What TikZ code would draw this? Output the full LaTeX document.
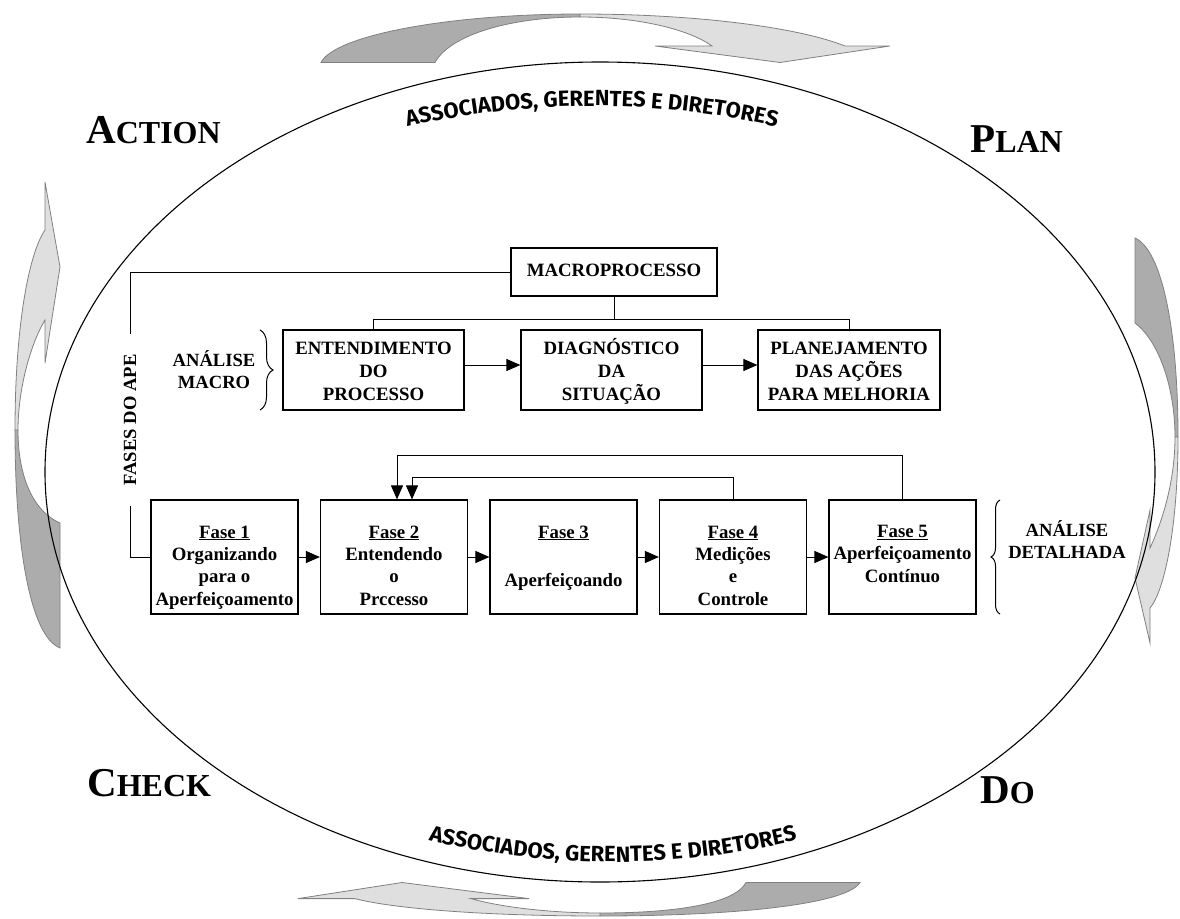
\documentclass[tikz,border=0pt]{standalone}
\usepackage{fontspec}
\setmainfont{Liberation Serif}
\newfontfamily\comicfont{Fira Sans}
\usetikzlibrary{arrows.meta,decorations.pathreplacing,decorations.text,shapes.geometric}

\begin{document}
\begin{tikzpicture}[x=1pt, y=-1pt,
  pbox/.style={draw, line width=1.2pt, inner sep=0pt, align=center,
    font=\bfseries\fontsize{18.8}{23}\selectfont},
  topbox/.style={pbox, minimum width=181pt, text height=70pt, text depth=10pt},
  fasebox/.style={pbox, minimum width=147pt, text height=105pt, text depth=9pt,
    font=\bfseries\fontsize{18.8}{22.3}\selectfont},
  link/.style={line width=1pt},
  arr/.style={link, -{Triangle[length=14pt,width=12pt]}},
  sidetext/.style={font=\bfseries\fontsize{18.6}{22}\selectfont, align=center, inner sep=0pt},
  pdca/.style={font=\bfseries\fontsize{41}{41}\selectfont, anchor=base west, inner sep=0pt},
  bandline/.style={draw=gray, line width=0.8pt},
  banddark/.style={bandline, fill=gray!65},
  bandlight/.style={bandline, fill=gray!25},
  groupbrace/.style={line width=1pt, decorate},
  caption/.style={decorate, decoration={text along path, text align=center,
    text={|\comicfont\bfseries\fontsize{22}{22}\selectfont|ASSOCIADOS, GERENTES E DIRETORES}}},
]
\useasboundingbox (0,0) rectangle (1180,918);

% ---- circulating arrows around the cycle ----
% top
\path[banddark] (321,62.5) .. controls (335,35) and (450,14) .. (580,14)
  -- (580,17) .. controls (510,17) and (450,35) .. (435,62.5) -- cycle;
\path[bandlight] (580,14) .. controls (700,14) and (800,28) .. (845,46)
  -- (890,46) -- (780,62.5) -- (655,46) -- (712,46)
  .. controls (690,30) and (640,17) .. (580,17) -- cycle;
% bottom
\path[banddark] (860,882.5) .. controls (846,905) and (730,916) .. (600,916)
  -- (600,913) .. controls (680,913) and (735,903) .. (746,882.5) -- cycle;
\path[bandlight] (600,916) .. controls (480,916) and (390,908) .. (355,898.6)
  -- (298,898.6) -- (402,882.5) -- (529,898.6) -- (471,898.6)
  .. controls (500,907) and (550,913) .. (600,913) -- cycle;
% left
\path[banddark] (60,648) .. controls (30,636) and (15,545) .. (15,430)
  -- (18,430) .. controls (18,480) and (35,512) .. (60,523) -- cycle;
\path[bandlight] (15,430) .. controls (15,330) and (28,255) .. (45,230)
  -- (45,182) -- (60,267) -- (45,363) -- (45,320)
  .. controls (30,345) and (18,390) .. (18,430) -- cycle;
% right
\path[banddark] (1135,238) .. controls (1162,250) and (1178,330) .. (1178,437)
  -- (1175,437) .. controls (1175,390) and (1160,342) .. (1135,323) -- cycle;
\path[bandlight] (1178,437) .. controls (1178,525) and (1165,590) .. (1150,608)
  -- (1150,643) -- (1135,578) -- (1150,510) -- (1150,548)
  .. controls (1163,520) and (1175,480) .. (1175,437) -- cycle;

% ---- the cycle ----
\node[draw, ellipse, line width=1.1pt, minimum width=1110pt, minimum height=820pt,
  inner sep=0pt] (cycle) at (600,472) {};

% ---- PDCA labels ----
\node[pdca] (act) at (86,143) {A{\fontsize{32}{32}\selectfont CTION}};
\node[pdca] (plan) at (970,152) {P{\fontsize{32}{32}\selectfont LAN}};
\node[pdca] (chk) at (87,796) {C{\fontsize{32}{32}\selectfont HECK}};
\node[pdca] (do) at (980,803) {D{\fontsize{32}{32}\selectfont O}};

% ---- curved captions ----
\path[caption] plot[smooth, domain=250:290, samples=41] ({592+830*cos(\x)}, {936+830*sin(\x)});
\path[caption] plot[smooth, domain=68:112, samples=41] ({613-788*cos(\x)}, {74+788*sin(\x)});

% ---- macro analysis ----
\node[pbox, minimum width=206pt, text height=28pt, text depth=20pt] (macro) at (614,272) {MACROPROCESSO};
\node[topbox] (ent) at (373.5,370) {ENTENDIMENTO\\DO\\PROCESSO};
\node[topbox] (diag) at (611.5,370) {DIAGNÓSTICO\\DA\\SITUAÇÃO};
\node[topbox, minimum width=182pt] (plano) at (849,370) {PLANEJAMENTO\\DAS AÇÕES\\PARA MELHORIA};

\coordinate (bus) at (0,319);
\draw[link] (macro.south) -- (macro.south |- bus);
\draw[link] (ent.north) |- (plano.north |- bus) -- (plano.north);
\draw[arr] ([yshift=5pt]ent.east) -- ([yshift=5pt]diag.west);
\draw[arr] ([yshift=5pt]diag.east) -- ([yshift=5pt]plano.west);

\node[sidetext] (amacro) at (214,370) {ANÁLISE\\MACRO};
\coordinate (mbT) at (260,330);
\coordinate (mbB) at (260,410);
\draw[groupbrace, decoration={brace, amplitude=13pt}] (mbT) -- (mbB);

% ---- detailed phases ----
\node[fasebox] (f1) at (224.5,557) {\underline{Fase 1}\\Organizando\\para o\\Aperfeiçoamento};
\node[fasebox] (f2) at (394,557) {\underline{Fase 2}\\Entendendo\\o\\Prccesso};
\node[fasebox, text height=86pt, text depth=28pt] (f3) at (563.5,557) {\underline{Fase 3}\\[25.7pt]Aperfeiçoando};
\node[fasebox] (f4) at (733,557) {\underline{Fase 4}\\Medições\\e\\Controle};
\node[fasebox, text height=82pt, text depth=32pt] (f5) at (902.5,557) {\underline{Fase 5}\\Aperfeiçoamento\\Contínuo};

\draw[arr] (f1.east) -- (f2.west);
\draw[arr] (f2.east) -- (f3.west);
\draw[arr] (f3.east) -- (f4.west);
\draw[arr] (f4.east) -- (f5.west);

\coordinate (loopA) at (0,455);
\coordinate (loopB) at (0,477);
\coordinate (inA) at ([xshift=3pt]f2.north);
\coordinate (inB) at ([xshift=18pt]f2.north);
\draw[arr] (f5.north) |- (inA |- loopA) -- (inA);
\draw[arr] (f4.north) |- (inB |- loopB) -- (inB);

\node[sidetext] (adet) at (1067,540) {ANÁLISE\\DETALHADA};
\coordinate (dbT) at (1000,500);
\coordinate (dbB) at (1000,614);
\draw[groupbrace, decoration={brace, amplitude=9pt}] (dbB) -- (dbT);

% ---- phase axis ----
\node[sidetext, rotate=90, inner xsep=20pt] (fases) at (130,420) {FASES DO APE};
\draw[link] (macro.west) -| (fases.east);
\draw[link] (fases.west) |- (f1.west);

\end{tikzpicture}
\end{document}
